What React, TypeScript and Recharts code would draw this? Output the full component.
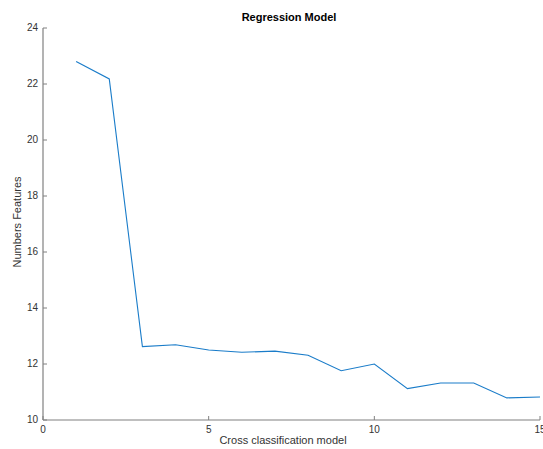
import React from 'react';
import { LineChart, Line, XAxis, YAxis } from 'recharts';

const xValues = [1, 2, 3, 4, 5, 6, 7, 8, 9, 10, 11, 12, 13, 14, 15];
const featureCounts = [22.8, 22.18, 12.62, 12.69, 12.5, 12.42, 12.46, 12.31, 11.76, 12.0, 11.12, 11.32, 11.32, 10.79, 10.82];
const xTicks = [0, 5, 10, 15];
const yTicks = [10, 12, 14, 16, 18, 20, 22, 24];
const title = 'Regression Model';
const xLabel = 'Cross classification model';
const yLabel = 'Numbers Features';

const data = xValues.map((x, i) => ({ x, y: featureCounts[i] }));

const FONT = '"Liberation Sans", Arial, Helvetica, sans-serif';
const AXIS = '#808080';
const TEXT = '#333333';

const XTick = (props: any) => {
  const { x, y, payload } = props;
  return (
    <g>
      <line x1={x} y1={y} x2={x} y2={y - 4} stroke={AXIS} strokeWidth={1} />
      <text x={x} y={y + 13} textAnchor="middle" fontSize={10} fontFamily={FONT} fill={TEXT}>
        {payload.value}
      </text>
    </g>
  );
};

const YTick = (props: any) => {
  const { x, y, payload } = props;
  return (
    <g>
      <line x1={x} y1={y} x2={x + 4} y2={y} stroke={AXIS} strokeWidth={1} />
      <text x={x - 5} y={y + 3} textAnchor="end" fontSize={10} fontFamily={FONT} fill={TEXT}>
        {payload.value}
      </text>
    </g>
  );
};

export default function App() {
  return (
    <div style={{ position: 'absolute', left: 0, top: 0, width: 543, height: 449, background: '#fff' }}>
      <LineChart width={543} height={449} data={data} margin={{ top: 28, right: 3, bottom: 0, left: 0 }}>
        <XAxis
          dataKey="x"
          type="number"
          domain={[0, 15]}
          ticks={xTicks}
          height={29}
          tickSize={0}
          tickMargin={0}
          tickLine={false}
          axisLine={{ stroke: AXIS, strokeWidth: 1.2 }}
          tick={<XTick />}
          interval={0}
        />
        <YAxis
          type="number"
          domain={[10, 24]}
          ticks={yTicks}
          width={43}
          tickSize={0}
          tickMargin={0}
          tickLine={false}
          axisLine={{ stroke: AXIS, strokeWidth: 1.2 }}
          tick={<YTick />}
          interval={0}
        />
        <Line
          dataKey="y"
          stroke="#1a7cc9"
          strokeWidth={1.1}
          dot={false}
          activeDot={false}
          isAnimationActive={false}
        />
      </LineChart>
      <svg width={543} height={449} style={{ position: 'absolute', left: 0, top: 0, pointerEvents: 'none' }}>
        <text x={289} y={21} textAnchor="middle" fontSize={11} fontWeight="bold" fontFamily={FONT} fill="#000">
          {title}
        </text>
        <text x={283} y={444} textAnchor="middle" fontSize={11} fontFamily={FONT} fill={TEXT}>
          {xLabel}
        </text>
        <text
          x={21}
          y={222}
          textAnchor="middle"
          fontSize={11}
          fontFamily={FONT}
          fill={TEXT}
          transform="rotate(-90 21 222)"
        >
          {yLabel}
        </text>
      </svg>
    </div>
  );
}
